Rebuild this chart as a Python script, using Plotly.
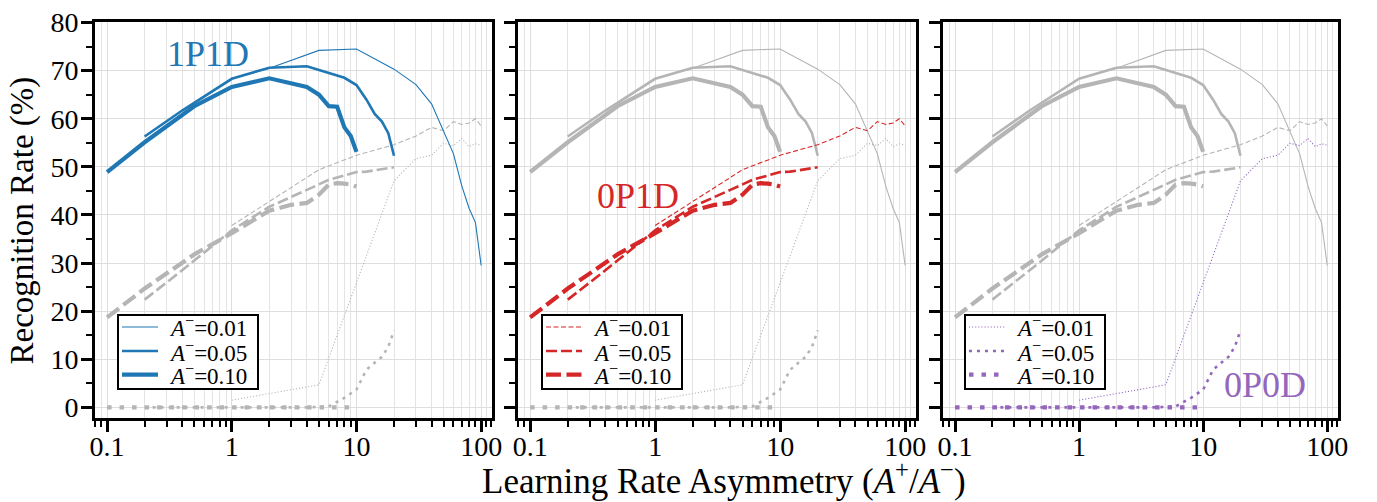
import plotly.graph_objects as go

# ---------------- data ----------------
x_a001 = [1, 2, 5, 10, 20, 30, 40, 50, 60, 70, 80, 90, 100]
x_a005 = [0.2, 0.4, 1, 2, 4, 6, 8, 10, 12, 14, 16, 18, 20]
x_a010 = [0.1, 0.2, 0.5, 1, 2, 3, 4, 5, 6, 7, 8, 9, 10]

p1d1_a001 = [68.3, 70.5, 74.2, 74.5, 70.3, 67.1, 63.1, 57.5, 52.7, 46.0, 41.4, 38.4, 29.5]
p1d1_a005 = [56.3, 61.7, 68.3, 70.6, 70.9, 69.4, 68.5, 67.0, 64.0, 61.0, 59.4, 57.0, 52.3]
p1d1_a010 = [48.9, 55.1, 62.6, 66.6, 68.4, 67.4, 66.6, 65.0, 62.6, 62.5, 58.2, 56.4, 53.1]

p0d1_a001 = [37.8, 42.8, 49.4, 52.4, 54.6, 56.4, 58.2, 57.5, 59.4, 58.8, 59.1, 60.0, 58.5]
p0d1_a005 = [22.4, 28.5, 36.8, 41.7, 45.2, 47.3, 48.2, 48.9, 49.0, 49.3, 49.6, 49.8, 49.9]
p0d1_a010 = [18.7, 24.7, 31.8, 36.2, 40.9, 42.1, 42.5, 44.2, 46.3, 46.6, 46.5, 46.3, 45.9]

p0d0_a001 = [1.5, 2.9, 4.7, 25.9, 47.1, 51.7, 52.4, 54.9, 54.4, 55.9, 54.2, 54.8, 54.5]
p0d0_a005 = [0, 0, 0, 0, 0, 0.2, 2.0, 3.7, 7.8, 9.3, 10.5, 12.6, 16.0]
p0d0_a010 = [0, 0, 0, 0, 0, 0, 0, 0, 0, 0, 0, 0, 0]

legend_labels = ["<i>A</i><sup>−</sup>=0.01", "<i>A</i><sup>−</sup>=0.05", "<i>A</i><sup>−</sup>=0.10"]
model_names = ["1P1D", "0P1D", "0P0D"]
x_major_ticks = [0.1, 1, 10, 100]
x_major_labels = ["0.1", "1", "10", "100"]
x_minor_ticks = [0.08, 0.09, 0.2, 0.3, 0.4, 0.5, 0.6, 0.7, 0.8, 0.9,
                 2, 3, 4, 5, 6, 7, 8, 9, 20, 30, 40, 50, 60, 70, 80, 90, 110, 120]
y_major_ticks = [0, 10, 20, 30, 40, 50, 60, 70, 80]
y_minor_ticks = [5, 15, 25, 35, 45, 55, 65, 75]

# ---------------- styles ----------------
FONT = "Liberation Serif"
GRAY = "#b5b5b5"
colors = ["#1f77b4", "#d62728", "#9467bd"]
widths = [1.1, 2.6, 4.2]
dash_styles = [
    ["solid", "solid", "solid"],
    ["5px,2.5px", "11px,4px", "15px,5.5px"],
    ["1.1px,2px", "3px,5px", "4.5px,8px"],
]

xs = [x_a001, x_a005, x_a010]
models = [
    [p1d1_a001, p1d1_a005, p1d1_a010],
    [p0d1_a001, p0d1_a005, p0d1_a010],
    [p0d0_a001, p0d0_a005, p0d0_a010],
]

fig = go.Figure()

W, H = 1377, 502
ML, MR, MT, MB = 95, 39, 7, 84
PW = W - ML - MR
PH = H - MT - MB
panels_px = [(0, 397), (423, 821), (848, 1243)]

def px2x(p):
    return (p - ML) / PW

def py2y(p):
    return (H - MB - p) / PH

for pi in range(3):
    xa = "x" if pi == 0 else f"x{pi+1}"
    ya = "y" if pi == 0 else f"y{pi+1}"
    for mi in range(3):
        if mi == pi:
            continue
        for ai in range(3):
            fig.add_trace(go.Scatter(
                x=xs[ai], y=models[mi][ai], mode="lines", xaxis=xa, yaxis=ya,
                line=dict(color=GRAY, width=widths[ai], dash=dash_styles[mi][ai]),
                showlegend=False, hoverinfo="skip"))
    for ai in range(3):
        fig.add_trace(go.Scatter(
            x=xs[ai], y=models[pi][ai], mode="lines", xaxis=xa, yaxis=ya,
            line=dict(color=colors[pi], width=widths[ai], dash=dash_styles[pi][ai]),
            name=model_names[pi] + " " + legend_labels[ai], showlegend=False))

axis_common = dict(
    showline=True, linecolor="black", linewidth=3, mirror=True,
    ticks="outside", ticklen=11, tickwidth=2.5, tickcolor="black",
    showgrid=True, gridcolor="#dedede", gridwidth=1, zeroline=False,
    tickfont=dict(family=FONT, size=28, color="black"),
)

layout = dict(
    width=W, height=H, margin=dict(l=ML, r=MR, t=MT, b=MB),
    paper_bgcolor="white", plot_bgcolor="white",
    font=dict(family=FONT, color="black"),
    showlegend=False,
)

for pi in range(3):
    sfx = "" if pi == 0 else str(pi + 1)
    x0, x1 = panels_px[pi]
    layout["xaxis" + sfx] = dict(
        axis_common, type="log", range=[-1.097, 2.087],
        domain=[x0 / PW, x1 / PW], anchor="y" + sfx,
        tickvals=x_major_ticks, ticktext=x_major_labels,
        ticklabelstandoff=-10,
        minor=dict(tickvals=x_minor_ticks, ticks="outside", ticklen=6, tickwidth=2,
                   tickcolor="black", showgrid=True, gridcolor="#e4e4e4", gridwidth=1),
    )
    layout["yaxis" + sfx] = dict(
        axis_common, range=[-2.2, 80.1], domain=[0, 1], anchor="x" + sfx,
        tickvals=y_major_ticks, showticklabels=(pi == 0),
        ticklabeloverflow="allow", ticklabelstandoff=-3,
        minor=dict(tickvals=y_minor_ticks, ticks="outside", ticklen=6, tickwidth=2,
                   tickcolor="black", showgrid=False),
    )

# ---- legends (box, sample lines, labels) ----
shapes = []
annotations = []
legend_left = [118, 542, 965]
legend_top, legend_bottom, legend_w = 311, 388, 140
row_y = [323.5, 348.5, 373]
for pi in range(3):
    lx = legend_left[pi]
    shapes.append(dict(type="rect", xref="paper", yref="paper",
                       x0=px2x(lx), x1=px2x(lx + legend_w),
                       y0=py2y(legend_bottom), y1=py2y(legend_top),
                       line=dict(color="black", width=2), fillcolor="white", layer="above"))
    for ai in range(3):
        shapes.append(dict(type="line", xref="paper", yref="paper",
                           x0=px2x(lx + 4), x1=px2x(lx + 40),
                           y0=py2y(row_y[ai]), y1=py2y(row_y[ai]),
                           line=dict(color=colors[pi], width=widths[ai],
                                     dash=dash_styles[pi][ai]),
                           layer="above"))
        annotations.append(dict(
            text=legend_labels[ai], x=px2x(lx + 49), y=py2y(row_y[ai]),
            xref="paper", yref="paper", xanchor="left", yanchor="middle",
            showarrow=False, font=dict(family=FONT, size=23, color="black")))

label_px = [(208, 40), (638, 188), (1265, 384)]
for pi in range(3):
    cx, cy = label_px[pi]
    annotations.append(dict(
        text=model_names[pi], x=px2x(cx), y=py2y(cy), xref="paper", yref="paper",
        xanchor="center", yanchor="middle", showarrow=False,
        font=dict(family=FONT, size=36, color=colors[pi])))

annotations.append(dict(
    text="Recognition Rate (%)", x=px2x(22), y=py2y(213), xref="paper", yref="paper",
    xanchor="center", yanchor="middle", showarrow=False, textangle=-90,
    font=dict(family=FONT, size=33, color="black")))
annotations.append(dict(
    text="Learning Rate Asymmetry (<i>A</i><sup>+</sup>/<i>A</i><sup>−</sup>)",
    x=px2x(724), y=py2y(481), xref="paper", yref="paper",
    xanchor="center", yanchor="middle", showarrow=False,
    font=dict(family=FONT, size=35, color="black")))

layout["annotations"] = annotations
layout["shapes"] = shapes
fig.update_layout(**layout)

fig.write_html("out.html", config={"displayModeBar": False},
               post_script="document.body.style.margin='0px';document.body.style.overflow='hidden';")
